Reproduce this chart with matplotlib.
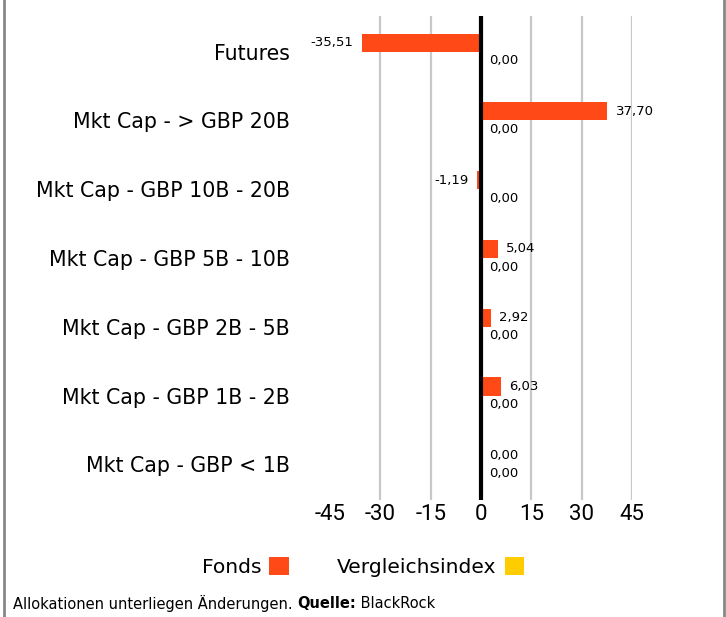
import matplotlib
matplotlib.use('Agg')
import matplotlib.pyplot as plt
from matplotlib.patches import Patch
from matplotlib.lines import Line2D

# Dados
categorias = ['Futures', 'Mkt Cap - > GBP 20B', 'Mkt Cap - GBP 10B - 20B',
              'Mkt Cap - GBP 5B - 10B', 'Mkt Cap - GBP 2B - 5B',
              'Mkt Cap - GBP 1B - 2B', 'Mkt Cap - GBP < 1B']
fonds = [-35.51, 37.70, -1.19, 5.04, 2.92, 6.03, 0.00]
vergleichsindex = [0.00, 0.00, 0.00, 0.00, 0.00, 0.00, 0.00]
x_ticks = [-45, -30, -15, 0, 15, 30, 45]
legenda = ['Fonds', 'Vergleichsindex']
rodape = 'Allokationen unterliegen Änderungen. '
rodape_bold = 'Quelle:'
rodape_fim = ' BlackRock'

COR_FONDS = '#FF4A17'
COR_INDEX = '#FFCC00'

plt.rcParams['font.family'] = ['DejaVu Sans']
plt.rcParams['axes.unicode_minus'] = False

def fmt(v):
    return '{:.2f}'.format(v).replace('.', ',')

fig = plt.figure(figsize=(7.26, 6.17), dpi=100)
ax = fig.add_axes([0.4545, 0.1896, 0.4160, 0.7845])

bar_h = 0.262
pos = list(range(len(categorias)))
pos_f = [p - bar_h / 2 for p in pos]
pos_v = [p + bar_h / 2 for p in pos]

# Grade vertical (sem a linha em -45)
for t in x_ticks:
    if t != 0 and t != x_ticks[0]:
        ax.axvline(t, color='#c8c8c8', linewidth=1.6, zorder=0)

ax.barh(pos_f, fonds, height=bar_h, color=COR_FONDS, zorder=2)
ax.barh(pos_v, vergleichsindex, height=bar_h, color=COR_INDEX, zorder=2)
ax.axvline(0, color='black', linewidth=3, zorder=3)

# Rótulos de valores
for y, v in zip(pos_f, fonds):
    if v < 0:
        ax.annotate(fmt(v), (v, y), xytext=(-6, 0), textcoords='offset points',
                    ha='right', va='center', fontsize=9.5)
    else:
        ax.annotate(fmt(v), (v, y), xytext=(6, 0), textcoords='offset points',
                    ha='left', va='center', fontsize=9.5)
for y, v in zip(pos_v, vergleichsindex):
    ax.annotate(fmt(v), (v, y), xytext=(6, 0), textcoords='offset points',
                ha='left', va='center', fontsize=9.5)

ax.set_xlim(x_ticks[0], x_ticks[-1])
ax.set_ylim(len(categorias) - 0.48, -0.52)
ax.set_xticks(x_ticks)
ax.set_xticklabels([str(t) for t in x_ticks], fontsize=16, family='Roboto')
ax.set_yticks(pos)
ax.set_yticklabels(categorias, fontsize=14.8)
ax.tick_params(axis='x', length=0, pad=3)
ax.tick_params(axis='y', length=0, pad=29)
for s in ax.spines.values():
    s.set_visible(False)

# Legenda
handles = [Patch(facecolor=COR_FONDS), Patch(facecolor=COR_INDEX)]
fig.legend(handles, legenda, loc='center', bbox_to_anchor=(0.5, 0.081),
           ncol=2, frameon=False, markerfirst=False, fontsize=14.6,
           handlelength=0.95, handleheight=0.95, handletextpad=0.4,
           columnspacing=2.4)

# Rodapé com parte em negrito
fig.canvas.draw()
r = fig.canvas.get_renderer()
t1 = fig.text(13 / 726, 1 - 603 / 617, rodape, fontsize=10.5, va='center')
w1 = t1.get_window_extent(r).width
t2 = fig.text((13 + w1) / 726, 1 - 603 / 617, rodape_bold, fontsize=10.5,
              va='center', weight='bold')
w2 = t2.get_window_extent(r).width
fig.text((13 + w1 + w2) / 726, 1 - 603 / 617, rodape_fim, fontsize=10.5, va='center')

# Bordas laterais
for xb in [3.5 / 726, 724 / 726]:
    fig.add_artist(Line2D([xb, xb], [0, 1], color='#888888', linewidth=2,
                          transform=fig.transFigure))

fig.savefig('out.png', dpi=100)
